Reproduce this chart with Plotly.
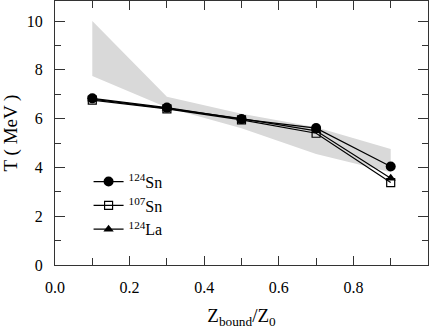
import plotly.graph_objects as go

# Z_bound/Z_0 bins
zbound = [0.1, 0.3, 0.5, 0.7, 0.9]

# temperatures (MeV)
t_sn124 = [6.83, 6.45, 5.98, 5.61, 4.04]
t_sn107 = [6.76, 6.40, 5.95, 5.40, 3.38]
t_la124 = [6.80, 6.42, 6.00, 5.50, 3.56]

# shaded band (upper / lower edges)
band_upper = [10.0, 6.9, 6.2, 5.65, 4.75]
band_lower = [7.75, 6.45, 5.6, 4.55, 3.8]

fig = go.Figure()

fig.add_trace(go.Scatter(
    x=zbound + zbound[::-1],
    y=band_upper + band_lower[::-1],
    fill="toself", fillcolor="#d9d9d9",
    line=dict(width=0), mode="lines",
    showlegend=False, hoverinfo="skip"
))

fig.add_trace(go.Scatter(
    x=zbound, y=t_sn124, name="<sup>124</sup>Sn", mode="lines+markers",
    line=dict(color="black", width=1.2),
    marker=dict(symbol="circle", size=10, color="black")
))
fig.add_trace(go.Scatter(
    x=zbound, y=t_sn107, name="<sup>107</sup>Sn", mode="lines+markers",
    line=dict(color="black", width=1.2),
    marker=dict(symbol="square-open", size=8, color="black", line=dict(width=1.2))
))
fig.add_trace(go.Scatter(
    x=zbound, y=t_la124, name="<sup>124</sup>La", mode="lines+markers",
    line=dict(color="black", width=1.2),
    marker=dict(symbol="triangle-up", size=9, color="black")
))

fig.update_layout(
    width=436, height=332,
    margin=dict(l=55, r=8, t=1, b=67),
    plot_bgcolor="white",
    font=dict(family="Liberation Serif", size=16, color="black"),
    legend=dict(x=0.09, y=0.38, xanchor="left", yanchor="top",
                bgcolor="rgba(0,0,0,0)"),
    xaxis=dict(
        range=[0, 1], dtick=0.2, tickformat=".1f",
        ticks="inside", ticklen=9, tickcolor="#333", tickwidth=1,
        showline=True, linecolor="#333", linewidth=1, mirror="ticks",
        gridcolor="rgba(0,0,0,0)",
        minor=dict(dtick=0.1, ticks="inside", ticklen=7, tickcolor="#333"),
        ticklabelstandoff=8,
        title=dict(text="Z<sub>bound</sub>/Z<sub>0</sub>", standoff=13)
    ),
    yaxis=dict(
        range=[0, 10.82], dtick=2, automargin=False,
        ticks="inside", ticklen=10, tickcolor="#333", tickwidth=1,
        showline=True, linecolor="#333", linewidth=1, mirror="ticks",
        gridcolor="rgba(0,0,0,0)",
        minor=dict(dtick=1, ticks="inside", ticklen=6, tickcolor="#333"),
        ticksuffix="  ",
        title=dict(text="T ( MeV )", standoff=5)
    ),
)

fig.write_html("out.html", config={"displayModeBar": False},
               post_script="document.body.style.margin='0';")
